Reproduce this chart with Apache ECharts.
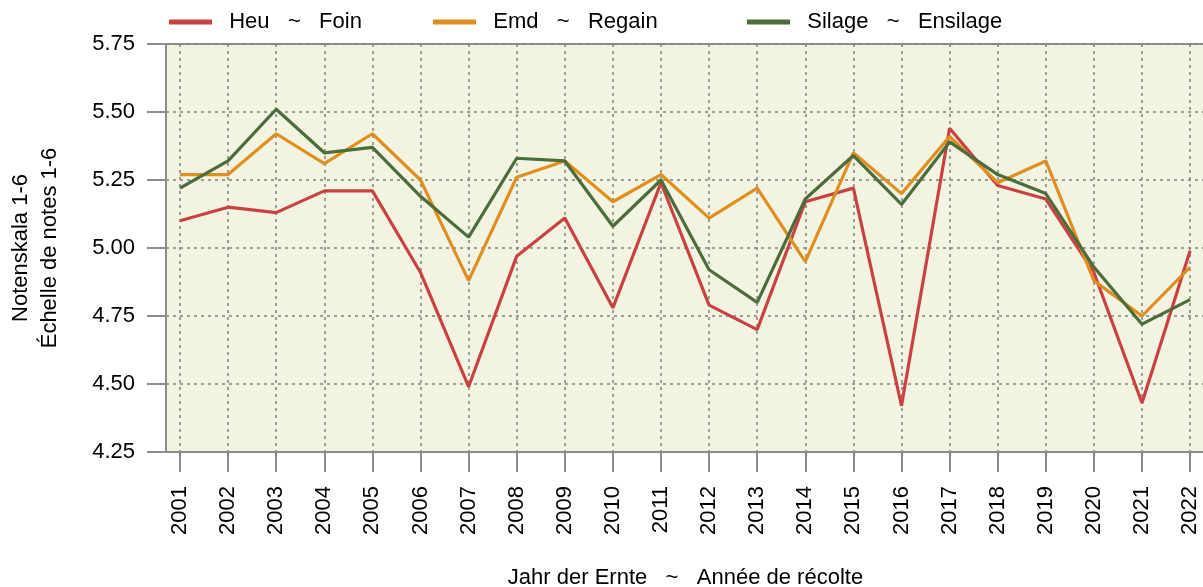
<!DOCTYPE html>
<html>
<head>
<meta charset="utf-8">
<script src="https://cdn.jsdelivr.net/npm/echarts@6/dist/echarts.min.js"></script>
<style>
  html, body { margin: 0; padding: 0; background: #fff; }
  #chart { width: 1203px; height: 587px; }
</style>
</head>
<body>
<div id="chart"></div>
<script>
// years of harvest
var years = [2001, 2002, 2003, 2004, 2005, 2006, 2007, 2008, 2009, 2010, 2011,
             2012, 2013, 2014, 2015, 2016, 2017, 2018, 2019, 2020, 2021, 2022];
// mean grade per year
var heu = [5.10, 5.15, 5.13, 5.21, 5.21, 4.91, 4.49, 4.97, 5.11, 4.78, 5.24,
           4.79, 4.70, 5.17, 5.22, 4.42, 5.44, 5.23, 5.18, 4.91, 4.43, 4.99];
var emd = [5.27, 5.27, 5.42, 5.31, 5.42, 5.25, 4.88, 5.26, 5.32, 5.17, 5.27,
           5.11, 5.22, 4.95, 5.35, 5.20, 5.41, 5.24, 5.32, 4.88, 4.75, 4.93];
var silage = [5.22, 5.32, 5.51, 5.35, 5.37, 5.19, 5.04, 5.33, 5.32, 5.08, 5.25,
              4.92, 4.80, 5.18, 5.34, 5.16, 5.39, 5.27, 5.20, 4.93, 4.72, 4.81];
var names = ['Heu   ~   Foin', 'Emd   ~   Regain', 'Silage   ~   Ensilage'];
var colors = ['#c94242', '#df8f1f', '#4b6d3b'];

var FONT = "'Liberation Sans', Arial, sans-serif";

function pairs(vals) {
  var out = [];
  for (var i = 0; i < years.length; i++) {
    out.push([years[i], vals[i]]);
  }
  return out;
}

function legendAt(name, left) {
  return {
    data: [name],
    left: left,
    top: 6,
    icon: 'rect',
    itemWidth: 43,
    itemHeight: 5,
    formatter: '  {name}',
    textStyle: { fontFamily: FONT, fontSize: 22, color: '#000' }
  };
}

var chart = echarts.init(document.getElementById('chart'));

var option = {
  animation: false,
  legend: [
    legendAt(names[0], 164),
    legendAt(names[1], 428),
    legendAt(names[2], 742)
  ],
  grid: {
    left: 166,
    right: -2,
    top: 44,
    bottom: 135,
    outerBoundsMode: 'none',
    show: true,
    backgroundColor: '#f3f3e2',
    borderColor: '#8c8c8c',
    borderWidth: 2
  },
  xAxis: {
    type: 'value',
    min: 2000.709,
    max: 2022.31,
    name: 'Jahr der Ernte   ~   Année de récolte',
    nameLocation: 'middle',
    nameGap: 115,
    nameTextStyle: { fontFamily: FONT, fontSize: 22, color: '#000' },
    axisLine: { show: true, lineStyle: { color: '#8c8c8c', width: 2 } },
    axisTick: {
      show: true,
      customValues: years,
      length: 20,
      lineStyle: { color: '#8c8c8c', width: 2 }
    },
    axisLabel: {
      customValues: years,
      rotate: 90,
      margin: 34,
      fontFamily: FONT,
      fontSize: 22,
      color: '#000',
      formatter: function (v) { return String(v); }
    },
    splitLine: {
      show: true,
      lineStyle: { color: '#808080', width: 1.5, type: [3, 4] }
    }
  },
  yAxis: {
    type: 'value',
    min: 4.25,
    max: 5.75,
    interval: 0.25,
    name: 'Notenskala 1-6\nÉchelle de notes 1-6',
    nameLocation: 'middle',
    nameRotate: 90,
    nameGap: 102,
    nameTextStyle: { fontFamily: FONT, fontSize: 22, color: '#000', lineHeight: 29 },
    axisLine: { show: true, lineStyle: { color: '#8c8c8c', width: 2 } },
    axisTick: { show: true, length: 19, lineStyle: { color: '#8c8c8c', width: 2 } },
    axisLabel: {
      margin: 31,
      fontFamily: FONT,
      fontSize: 22,
      color: '#000',
      formatter: function (v) { return v.toFixed(2); }
    },
    splitLine: {
      show: true,
      lineStyle: { color: '#808080', width: 1.5, type: [3, 4] }
    }
  },
  series: [
    { name: names[0], type: 'line', data: pairs(heu), symbol: 'none',
      itemStyle: { color: colors[0] }, lineStyle: { color: colors[0], width: 3.2 } },
    { name: names[1], type: 'line', data: pairs(emd), symbol: 'none',
      itemStyle: { color: colors[1] }, lineStyle: { color: colors[1], width: 3.2 } },
    { name: names[2], type: 'line', data: pairs(silage), symbol: 'none',
      itemStyle: { color: colors[2] }, lineStyle: { color: colors[2], width: 3.2 } }
  ]
};

chart.setOption(option);
</script>
</body>
</html>
